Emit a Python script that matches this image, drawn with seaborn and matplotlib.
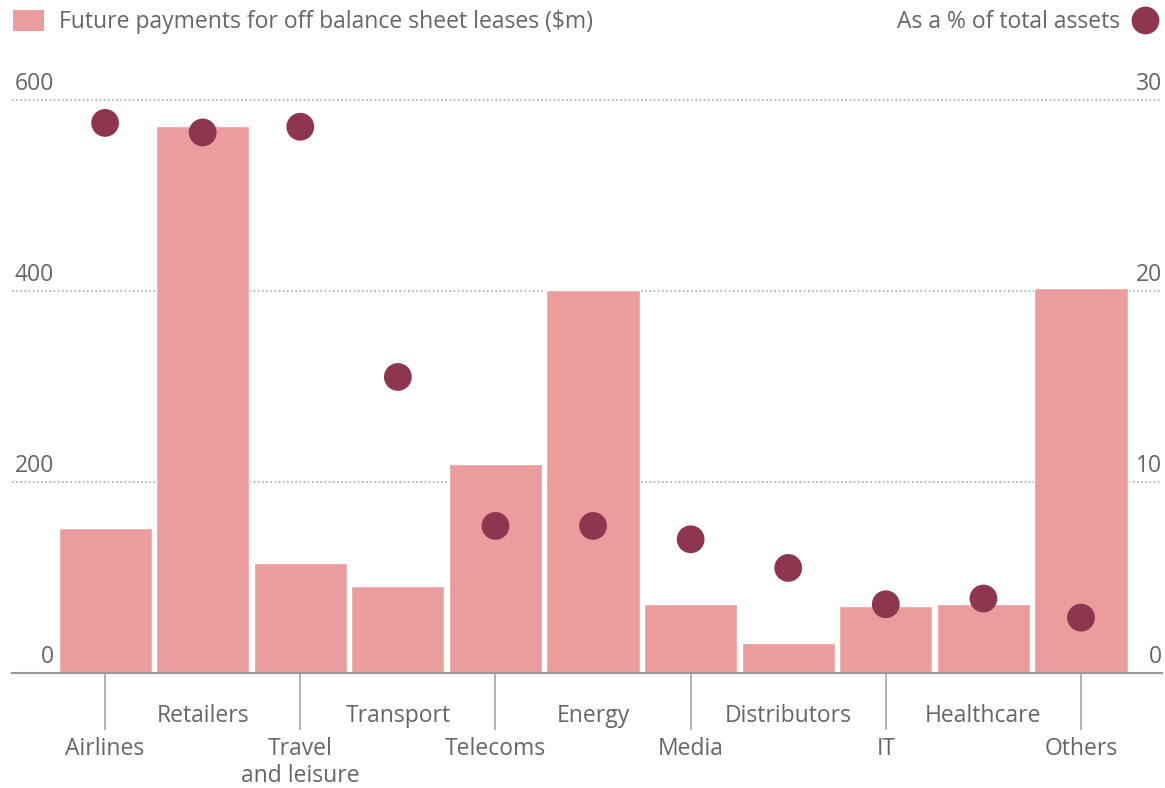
import numpy as np
import pandas as pd
import matplotlib
matplotlib.use('Agg')
import matplotlib.pyplot as plt
import matplotlib.transforms as mtransforms
from matplotlib.patches import Patch
from matplotlib.lines import Line2D
import seaborn as sns

sectors = ['Airlines', 'Retailers', 'Travel\nand leisure', 'Transport', 'Telecoms',
           'Energy', 'Media', 'Distributors', 'IT', 'Healthcare', 'Others']
lease_payments = [152, 573, 115, 91, 219, 401, 72, 31, 70, 72, 403]
pct_of_assets = [28.8, 28.3, 28.6, 15.5, 7.7, 7.7, 7.0, 5.5, 3.6, 3.9, 2.9]
left_ticks = [0, 200, 400, 600]
right_ticks = [0, 10, 20, 30]

BAR_COLOR = '#eb9c9c'
DOT_COLOR = '#8e3550'
TEXT_COLOR = '#666666'
GRID_COLOR = '#a8a8a8'
FS = 16.5

df = pd.DataFrame({'sector': sectors, 'payments': lease_payments, 'pct': pct_of_assets})
df['pos'] = np.arange(len(df))

sns.set_theme(style='white')
plt.rcParams['font.family'] = ['Open Sans', 'DejaVu Sans']

W, H = 1165, 788
fig = plt.figure(figsize=(W / 100, H / 100), dpi=100)
fig.patch.set_facecolor('white')
ax = fig.add_axes([12 / W, (H - 673) / H, (1162 - 12) / W, (673 - 100) / H])

sns.barplot(data=df, x='pos', y='payments', color=BAR_COLOR, width=0.955,
            saturation=1, ax=ax, native_scale=True)
ax.set_xlim(-0.954, 10.83)
ax.set_ylim(0, 600)

ax2 = ax.twinx()
sns.scatterplot(data=df, x='pos', y='pct', color=DOT_COLOR, s=400,
                edgecolor='none', ax=ax2, zorder=5)
ax2.set_ylim(0, 30)

for a in (ax, ax2):
    a.set_facecolor('none')
    for sp in a.spines.values():
        sp.set_visible(False)
    a.set_xlabel('')
    a.set_ylabel('')
    a.set_yticks([])
ax.spines['bottom'].set_visible(True)
ax.spines['bottom'].set_color('#999999')
ax.spines['bottom'].set_linewidth(1.5)

# dotted gridlines
for v in left_ticks[1:]:
    ax.axhline(v, color=GRID_COLOR, linestyle=(0, (1, 1.5)), linewidth=1.2,
               zorder=0, clip_on=False)

# y tick labels sit above the gridlines
trans_l = mtransforms.blended_transform_factory(ax.transAxes, ax.transData)
for v in left_ticks:
    ax.text(42 / (1162 - 12), v + 4, str(v), transform=trans_l, ha='right', va='bottom',
            fontsize=FS, color=TEXT_COLOR)
trans_r = mtransforms.blended_transform_factory(ax2.transAxes, ax2.transData)
for v in right_ticks:
    ax2.text(1.0, v + 0.2, str(v), transform=trans_r, ha='right', va='bottom',
             fontsize=FS, color=TEXT_COLOR)

# alternating x labels: even ones low with a tick line, odd ones high
lower = df['pos'][::2]
upper = df['pos'][1::2]
ax.set_xticks(lower)
ax.set_xticklabels(df['sector'][::2], fontsize=FS, color=TEXT_COLOR, va='top',
                   linespacing=1.15)
ax.tick_params(axis='x', which='major', length=41, width=1.3, color='#b0aca6',
               pad=5, bottom=True)
ax.set_xticks(upper, minor=True)
ax.set_xticklabels(df['sector'][1::2], minor=True, fontsize=FS, color=TEXT_COLOR)
ax.tick_params(axis='x', which='minor', length=0, pad=22)
ax2.tick_params(axis='x', length=0)

# legends
leg1 = fig.legend(handles=[Patch(facecolor=BAR_COLOR, edgecolor='none',
                                 label='Future payments for off balance sheet leases ($m)')],
                  loc='upper left', bbox_to_anchor=(4 / W, 1 - 1 / H), frameon=False,
                  fontsize=FS, handlelength=1.35, handleheight=1.0,
                  handletextpad=0.65, borderaxespad=0)
for t in leg1.get_texts():
    t.set_color(TEXT_COLOR)
leg2 = fig.legend(handles=[Line2D([], [], marker='o', linestyle='none', markersize=20,
                                  markerfacecolor=DOT_COLOR, markeredgecolor='none',
                                  label='As a % of total assets')],
                  loc='upper right', bbox_to_anchor=(1 + 2 / W, 1 - 1 / H), frameon=False,
                  fontsize=FS, markerfirst=False, handlelength=1.1,
                  handletextpad=0.55, borderaxespad=0)
for t in leg2.get_texts():
    t.set_color(TEXT_COLOR)

fig.savefig('out.png', dpi=100, facecolor='white')
